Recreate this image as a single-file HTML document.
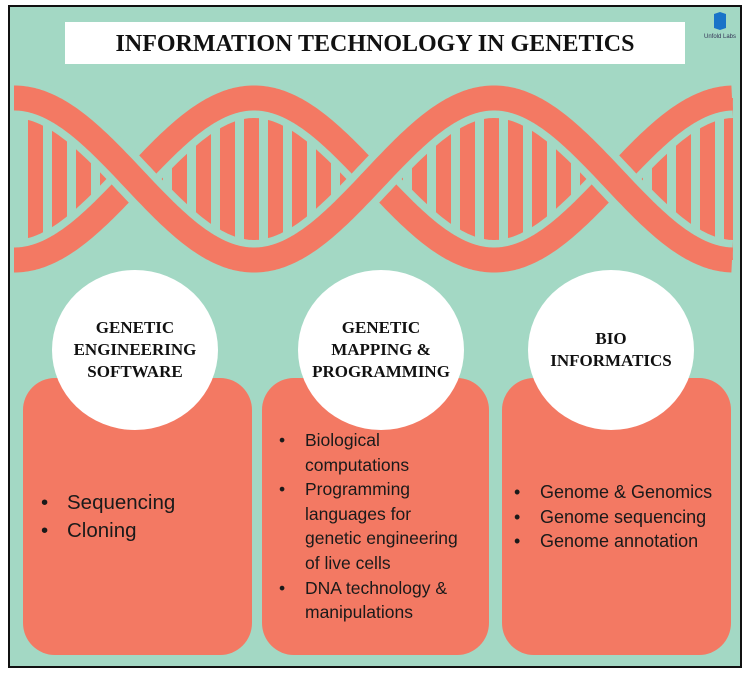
<!DOCTYPE html>
<html><head><meta charset="utf-8"><style>
body{margin:0;width:750px;height:675px;background:#fff;position:relative;overflow:hidden;font-family:"Liberation Sans",sans-serif}
.frame{position:absolute;left:8px;top:5px;width:730px;height:659px;border:2px solid #111;background:#a3d8c4}
.title{position:absolute;left:65px;top:22px;width:620px;height:42px;background:#fff;text-align:center;font:bold 24px/44px "Liberation Serif",serif;color:#111}
.box{position:absolute;top:378px;height:277px;background:#f37963;border-radius:32px}
.circ{position:absolute;width:166px;height:160px;border-radius:50%;background:#fff;top:270px;display:flex;align-items:center;justify-content:center;text-align:center;font:bold 17px/22px "Liberation Serif",serif;color:#111}
ul{position:absolute;margin:0;padding:0;list-style:none;color:#1a1a1a}
li{position:relative}
li:before{content:"•";position:absolute;left:-26px}
</style></head><body>
<div class="frame"></div>
<div class="title">INFORMATION TECHNOLOGY IN GENETICS</div>
<svg style="position:absolute;left:700px;top:12px" width="40" height="30"><path d="M14 2 L20 0 L26 2 L26 16 L20 18 L14 16Z" fill="#1a73c8"/><text x="20" y="26" font-size="6" text-anchor="middle" fill="#335" font-family="Liberation Sans">Unfold Labs</text></svg>
<svg id="dna" style="position:absolute;left:0;top:0" width="750" height="300"></svg>
<div class="box" style="left:23px;width:229px"></div>
<div class="box" style="left:262px;width:227px"></div>
<div class="box" style="left:502px;width:229px"></div>
<div class="circ" style="left:52px">GENETIC<br>ENGINEERING<br>SOFTWARE</div>
<div class="circ" style="left:298px">GENETIC<br>MAPPING &amp;<br>PROGRAMMING</div>
<div class="circ" style="left:528px">BIO<br>INFORMATICS</div>
<ul style="left:67px;top:489px;font-size:20.5px;line-height:28px"><li>Sequencing</li><li>Cloning</li></ul>
<ul style="left:305px;top:428px;font-size:17.5px;line-height:24.6px"><li>Biological<br>computations</li><li>Programming<br>languages for<br>genetic engineering<br>of live cells</li><li>DNA technology &amp;<br>manipulations</li></ul>
<ul style="left:540px;top:480px;font-size:18px;line-height:24.6px"><li>Genome &amp; Genomics</li><li>Genome sequencing</li><li>Genome annotation</li></ul>
<script>
(function(){
var s=document.getElementById('dna'),ns='http://www.w3.org/2000/svg';
var x0=14,x1=733,c=179,A=81,P=480;
function y(x,k){return c+k*A*Math.cos(2*Math.PI*(x-x0)/P);}
function path(k){var d='';for(var x=x0;x<=x1;x+=2){d+=(x==x0?'M':'L')+x+' '+y(x,k).toFixed(1)+' ';}return d;}
var g=document.createElementNS(ns,'g');s.appendChild(g);
var clip=document.createElementNS(ns,'clipPath');clip.id='cl';var r=document.createElementNS(ns,'rect');r.setAttribute('x',x0);r.setAttribute('y',0);r.setAttribute('width',x1-x0);r.setAttribute('height',300);clip.appendChild(r);s.appendChild(clip);
g.setAttribute('clip-path','url(#cl)');
for(var x=x0+22;x<x1;x+=24){
 var a=y(x,1),b=y(x,-1),lo=Math.min(a,b),hi=Math.max(a,b);
 if(hi-lo<40)continue;
 var rr=document.createElementNS(ns,'rect');rr.setAttribute('x',x-8);rr.setAttribute('width',15);rr.setAttribute('y',lo);rr.setAttribute('height',hi-lo);rr.setAttribute('fill','#f37963');g.appendChild(rr);
}
[1,-1].forEach(function(k){
 var p=document.createElementNS(ns,'path');p.setAttribute('d',path(k));p.setAttribute('fill','none');p.setAttribute('stroke','#a3d8c4');p.setAttribute('stroke-width','40');g.appendChild(p);
 var q=document.createElementNS(ns,'path');q.setAttribute('d',path(k));q.setAttribute('fill','none');q.setAttribute('stroke','#f37963');q.setAttribute('stroke-width','25');g.appendChild(q);
});
})();
</script>
</body></html>
